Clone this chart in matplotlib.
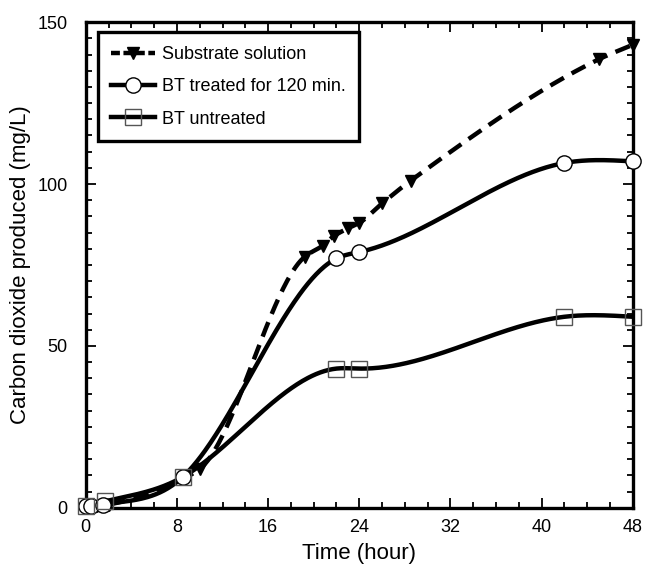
import matplotlib
matplotlib.use("Agg")
import matplotlib.pyplot as plt
import numpy as np
from matplotlib.ticker import MultipleLocator

plt.rcParams['font.family'] = ['Liberation Sans', 'DejaVu Sans']

# values
t_sub = [0, 1, 2, 8.5, 10, 19.2, 20.8, 21.8, 23, 24, 26, 28.5, 45, 48]
co2_sub = [0, 0.5, 1, 9, 12, 77.5, 81, 84, 86.3, 88, 94, 101, 138.5, 143]

t_120 = [0, 0.5, 1.5, 8.5, 22, 24, 42, 48]
co2_120 = [0.5, 0.5, 1, 9.5, 77, 79, 106.5, 107]

t_unt = [0, 1.7, 8.5, 22, 24, 42, 48]
co2_unt = [0.5, 2, 9.5, 43, 43, 59, 59]


def spline(x, y, n=400):
    # natural cubic spline, like the smoothed curve of the original plot
    x = np.asarray(x, float)
    y = np.asarray(y, float)
    k = len(x)
    h = np.diff(x)
    A = np.zeros((k, k))
    b = np.zeros(k)
    A[0, 0] = A[-1, -1] = 1
    for i in range(1, k - 1):
        A[i, i - 1] = h[i - 1]
        A[i, i] = 2 * (h[i - 1] + h[i])
        A[i, i + 1] = h[i]
        b[i] = 3 * ((y[i + 1] - y[i]) / h[i] - (y[i] - y[i - 1]) / h[i - 1])
    c = np.linalg.solve(A, b)
    xs = np.linspace(x[0], x[-1], n)
    j = np.clip(np.searchsorted(x, xs) - 1, 0, k - 2)
    d = xs - x[j]
    bb = (y[j + 1] - y[j]) / h[j] - h[j] * (2 * c[j] + c[j + 1]) / 3
    dd = (c[j + 1] - c[j]) / (3 * h[j])
    return xs, y[j] + bb * d + c[j] * d ** 2 + dd * d ** 3


def pchip(x, y, n=400):
    # monotone cubic (Fritsch-Carlson), the dashed curve looks like this
    x = np.asarray(x, float)
    y = np.asarray(y, float)
    h = np.diff(x)
    s = np.diff(y) / h
    m = np.zeros(len(x))
    for i in range(1, len(x) - 1):
        if s[i - 1] * s[i] > 0:
            w1 = 2 * h[i] + h[i - 1]
            w2 = h[i] + 2 * h[i - 1]
            m[i] = (w1 + w2) / (w1 / s[i - 1] + w2 / s[i])
    m[0] = s[0]
    m[-1] = s[-1]
    xs = np.linspace(x[0], x[-1], n)
    j = np.clip(np.searchsorted(x, xs) - 1, 0, len(x) - 2)
    t = (xs - x[j]) / h[j]
    h00 = 2 * t ** 3 - 3 * t ** 2 + 1
    h10 = t ** 3 - 2 * t ** 2 + t
    h01 = -2 * t ** 3 + 3 * t ** 2
    h11 = t ** 3 - t ** 2
    return xs, h00 * y[j] + h10 * h[j] * m[j] + h01 * y[j + 1] + h11 * h[j] * m[j + 1]


fig = plt.figure(figsize=(6.45, 5.68), dpi=100)
ax = fig.add_axes([0.133, 0.106, 0.848, 0.855])

lw = 3.2
xs, ys = pchip(t_sub, co2_sub)
ax.plot(xs, ys, color='black', lw=lw, ls=(0, (3.5, 2)), zorder=3)
ax.plot(t_sub, co2_sub, ls='none', marker='v', ms=8, color='black', clip_on=False, zorder=4)

xs, ys = spline(t_120, co2_120)
ax.plot(xs, ys, color='black', lw=lw, zorder=3)
ax.plot(t_120, co2_120, ls='none', marker='o', ms=11, mfc='white', mec='black', mew=1,
        clip_on=False, zorder=5)

xs, ys = spline(t_unt, co2_unt)
ax.plot(xs, ys, color='black', lw=lw, zorder=3)
ax.plot(t_unt, co2_unt, ls='none', marker='s', ms=11.5, mfc='none', mec='#555555', mew=1,
        clip_on=False, zorder=5)

# legend proxies
h1, = ax.plot([], [], color='black', lw=lw, ls=(0, (2, 0.8)), marker='v', ms=8)
h2, = ax.plot([], [], color='black', lw=lw, marker='o', ms=11, mfc='white', mec='black', mew=1)
h3, = ax.plot([], [], color='black', lw=lw, marker='s', ms=11.5, mfc='none', mec='#555555', mew=1)
leg = ax.legend([h1, h2, h3], ['Substrate solution', 'BT treated for 120 min.', 'BT untreated'],
                loc='upper left', bbox_to_anchor=(0.012, 0.99), fontsize=13, fancybox=False,
                framealpha=1, edgecolor='black', handlelength=2.4, borderpad=0.75,
                labelspacing=0.85, handletextpad=0.4, borderaxespad=0.3)
leg.get_frame().set_linewidth(2.4)

ax.set_xlim(0, 48)
ax.set_ylim(0, 150)
ax.xaxis.set_major_locator(MultipleLocator(8))
ax.xaxis.set_minor_locator(MultipleLocator(2))
ax.yaxis.set_major_locator(MultipleLocator(50))
ax.yaxis.set_minor_locator(MultipleLocator(5))
ax.tick_params(which='both', direction='in', top=True, right=True, labelsize=13, width=1.3)
ax.tick_params(which='major', length=7)
ax.tick_params(which='minor', length=4)
ax.tick_params(axis='y', pad=13)
ax.tick_params(axis='x', pad=8)
for s in ax.spines.values():
    s.set_linewidth(2.4)

ax.set_xlabel('Time (hour)', fontsize=16, labelpad=5)
ax.set_ylabel('Carbon dioxide produced (mg/L)', fontsize=16, labelpad=5)

fig.savefig('out.png', dpi=100)
